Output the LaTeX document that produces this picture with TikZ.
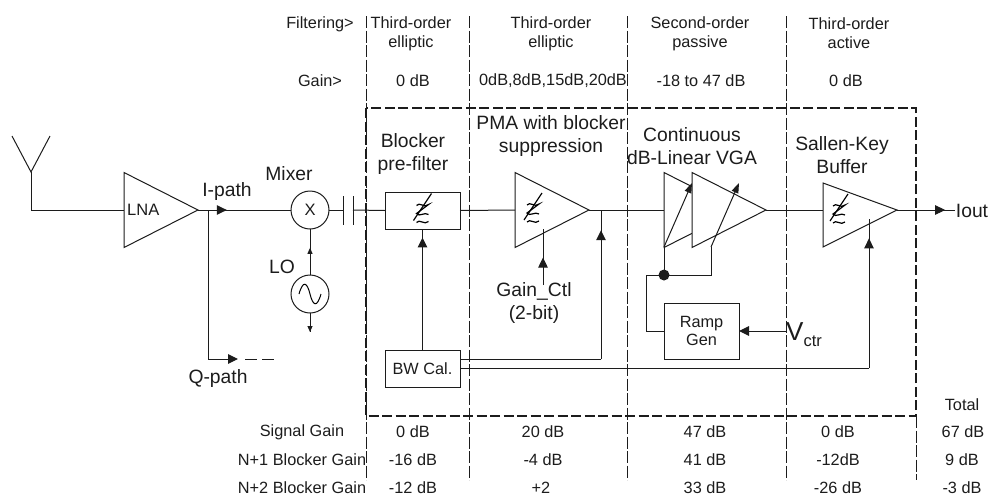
\documentclass[tikz,border=0pt]{standalone}
\usepackage{fontspec}
\setmainfont{Liberation Sans}
\usetikzlibrary{positioning,arrows.meta,shapes.geometric,decorations.markings}
\definecolor{rxInk}{HTML}{1C1C1C}
\newcommand{\fsz}[1]{\fontsize{#1}{#1}\selectfont}

\tikzset{
  % small z-with-tildes mark used inside the filter blocks
  filtmark/.pic={
    \draw[line width=1.2pt] (9,-17) -- (-9,10);
    \draw[line width=1.2pt] (-6,-5) .. controls (-3,-9) and (2,-2) .. (6,-6) -- (-6,3) .. controls (-3,7) and (2,1) .. (6,4);
    \draw[line width=1.2pt] (-6,12) .. controls (-3,8) and (2,15) .. (6,11);
  }
}

\begin{document}
\begin{tikzpicture}[
  x=1pt, y=-1pt,
  every node/.style={text=rxInk},
  wire/.style={draw=rxInk, line width=1pt},
  blk/.style={draw=rxInk, line width=1pt, fill=white, inner sep=0pt, outer sep=0pt, align=center, font=\fsz{16.3}},
  amp/.style={isosceles triangle, isosceles triangle stretches, draw=rxInk, line width=1pt, fill=white,
              inner sep=0pt, outer sep=0pt, minimum width=75pt, minimum height=74pt, anchor=lower side},
  sum/.style={circle, draw=rxInk, line width=1pt, fill=white, inner sep=0pt, outer sep=0pt, minimum size=38pt, font=\fsz{16.5}},
  lbl/.style={font=\fsz{19.3}, align=center, inner sep=0pt},
  tbl/.style={font=\fsz{16.3}, align=center, inner sep=0pt},
  flecha/.style={wire, -{Triangle[length=10pt,width=9.5pt]}},
  midtip/.style={wire, postaction={decorate}, decoration={markings, mark=at position #1 with {\arrow{Triangle[length=10pt,width=9.5pt]}}}},
  smalltip/.style={wire, postaction={decorate}, decoration={markings, mark=at position #1 with {\arrow{Triangle[length=6pt,width=5pt]}}}},
  frame/.style={draw=rxInk, line width=1.6pt, dash pattern=on 10pt off 3.5pt},
  divider/.style={draw=rxInk, line width=0.9pt, dash pattern=on 12pt off 2.5pt}
]
\useasboundingbox (0,0) rectangle (989,496);

% column dividers and the chip frame
\coordinate (d1t) at (366,16); \coordinate (d1b) at (366,480);
\coordinate (d2t) at (469,16); \coordinate (d2b) at (469,480);
\coordinate (d3t) at (627,16); \coordinate (d3b) at (627,480);
\coordinate (d4t) at (786,16); \coordinate (d4b) at (786,480);
\coordinate (d5t) at (916,416); \coordinate (d5b) at (916,480);
\draw[divider] (d1t) -- (d1b);
\draw[divider] (d2t) -- (d2b);
\draw[divider] (d3t) -- (d3b);
\draw[divider] (d4t) -- (d4b);
\draw[divider] (d5t) -- (d5b);
\draw[frame] (366,108) rectangle (916,416);

% blocks of the receive chain
\node[amp] (lna) at (124,210) {};
\node[sum] (mix) at (310,210) {X};
\node[sum, below=46pt of mix] (osc) {};
\node[blk, minimum width=75pt, minimum height=37pt] (prefilt) at (422.5,210.5) {};
\node[blk, minimum width=75pt, minimum height=37pt, below=121pt of prefilt] (bwcal) {BW Cal.};
\node[amp] (pma) at (515,210) {};
\node[amp] (vga1) at (664,210) {};
\node[amp] (vga2) at (692,210) {};
\node[blk, minimum width=75pt, minimum height=56pt] (ramp) at (701.5,331) {Ramp\\[2pt]Gen};
\draw[wire, fill=white] (823,183) coordinate (sk1) -- (897,210) coordinate (skout) -- (823,247) coordinate (sk2) -- cycle;
\coordinate (skin) at (823,210);
\pic at (prefilt.center) {filtmark};
\pic at (533,210) {filtmark};
\pic at (839,211) {filtmark};

% antenna
\coordinate (antl) at (12,136);
\coordinate (antr) at (50,136);
\coordinate (ant) at (31,172);
\coordinate (antb) at (31,210);
\draw[wire] (antl) -- (ant) -- (antr);
\draw[wire] (ant) -- (antb) -- (lna.lower side);

% signal path
\coordinate (qtap) at (208,210);
\coordinate (qend) at (238,359);
\coordinate (qd1) at (245,359);
\coordinate (qd2) at (274,359);
\coordinate (lofoot) at (310,332);
\coordinate (cap1) at (343,210);
\coordinate (cap2) at (353,210);
\draw[midtip=0.31] (lna.apex) -- (mix.west);
\draw[flecha] (qtap) |- (qend);
\draw[wire, dash pattern=on 12pt off 5pt] (qd1) -- (qd2);
\draw[smalltip=0.59] (osc.north) -- (mix.south);
\draw[smalltip=1] (osc.south) -- (lofoot);
\draw[wire] (mix.east) -- (cap1);
\draw[wire] (343,196) -- (343,225);
\draw[wire] (353,196) -- (353,225);
\draw[wire] (cap2) -- (prefilt.west);
\draw[wire] (prefilt.east) -- (pma.lower side);
\draw[wire] (pma.apex) -- (vga1.lower side);
\draw[wire] (vga2.apex) -- (skin);

% control lines
\coordinate (gctl) at (543,285);
\coordinate (gtop) at (543,229);
\coordinate (bwp) at (601,359);
\coordinate (bwptop) at (601,211);
\coordinate (bwo) at (460,359);
\coordinate (bwo2) at (460,368);
\coordinate (bwsk) at (869,368);
\coordinate (bwsktop) at (869,219);
\coordinate (vtail1) at (664,247);
\coordinate (vhead1) at (692,183);
\coordinate (vtail2) at (711,247);
\coordinate (vhead2) at (739,183);
\coordinate (rampj) at (664,275);
\coordinate (rampc) at (711,275);
\coordinate (rampl) at (646,275);
\coordinate (vctr) at (786,331);
\coordinate (ioutc) at (955,210);
\draw[midtip=0.93] (bwcal.north) -- (prefilt.south);
\draw[midtip=0.49] (gctl) -- (gtop);
\draw[wire] (bwo) -- (bwp);
\draw[midtip=0.87] (bwp) -- (bwptop);
\draw[wire] (bwo2) -- (bwsk);
\draw[midtip=0.87] (bwsk) -- (bwsktop);
\draw[flecha, -{Triangle[length=10pt,width=7pt]}] (vtail1) -- (vhead1);
\draw[flecha, -{Triangle[length=10pt,width=7pt]}] (vtail2) -- (vhead2);
\draw[wire] (vtail1) -- (rampj);
\draw[wire] (vtail2) -- (rampc) -- (rampl) |- (ramp.west);
\fill[rxInk] (rampj) circle (5.5pt);
\draw[flecha] (vctr) -- (ramp.east);
\draw[midtip=0.83] (skout) -- (ioutc);

% block labels
\node[font=\fsz{16.5}, inner sep=0pt, right=3pt of lna.lower side] (lnatxt) {LNA};
\node[lbl] (ipath) at (227,192) {I-path};
\node[lbl] (qpath) at (218,379) {Q-path};
\node[lbl] (mixtxt) at (289,174) {Mixer};
\node[lbl] (lotxt) at (282,267) {LO};
\node[lbl] (blocktxt) at (413,154) {Blocker\\[3pt]pre-filter};
\node[lbl] (pmatxt) at (551,136) {PMA with blocker\\[3pt]suppression};
\node[lbl] (vgatxt) at (692,146) {Continuous\\[3pt]dB-Linear VGA};
\node[lbl] (sktxt) at (842,155) {Sallen-Key\\[3pt]Buffer};
\node[lbl] (gaintxt) at (534,303) {Gain\_Ctl\\[3pt](2-bit)};
\node[lbl] (iouttxt) at (972,211) {Iout};
\node[inner sep=0pt, anchor=west] (vctrtxt) at (786,335) {{\fsz{26}V}\raisebox{-6pt}{\fsz{16.5}ctr}};

% table above the frame
\node[tbl] (hfilt) at (320,24) {Filtering>};
\node[tbl] (hgain) at (320,81) {Gain>};
\node[tbl] (f1) at (411,33.5) {Third-order\\[3pt]elliptic};
\node[tbl] (f2) at (551,33.5) {Third-order\\[3pt]elliptic};
\node[tbl] (f3) at (700,33.5) {Second-order\\[3pt]passive};
\node[tbl] (f4) at (849,33.5) {Third-order\\[3pt]active};
\node[tbl] (g1) at (413,81) {0 dB};
\node[tbl] (g2) at (553,81) {0dB,8dB,15dB,20dB};
\node[tbl] (g3) at (701,81) {-18 to 47 dB};
\node[tbl] (g4) at (846,81) {0 dB};

% table below the frame
\node[tbl] (total) at (962,405) {Total};
\node[tbl] (rs) at (302,432) {Signal Gain};
\node[tbl] (rn1) at (302,460) {N+1 Blocker Gain};
\node[tbl] (rn2) at (302,488) {N+2 Blocker Gain};
\node[tbl] (s1) at (413,432) {0 dB};
\node[tbl] (s2) at (543,432) {20 dB};
\node[tbl] (s3) at (705,432) {47 dB};
\node[tbl] (s4) at (838,432) {0 dB};
\node[tbl] (s5) at (963,432) {67 dB};
\node[tbl] (a1) at (413,460) {-16 dB};
\node[tbl] (a2) at (543,460) {-4 dB};
\node[tbl] (a3) at (705,460) {41 dB};
\node[tbl] (a4) at (838,460) {-12dB};
\node[tbl] (a5) at (962,460) {9 dB};
\node[tbl] (b1) at (413,488) {-12 dB};
\node[tbl] (b2) at (541,488) {+2};
\node[tbl] (b3) at (705,488) {33 dB};
\node[tbl] (b4) at (838,488) {-26 dB};
\node[tbl] (b5) at (962,488) {-3 dB};

% oscillator wave
\draw[line width=1pt] (299,294) .. controls (303,280) and (307,282) .. (310,294) .. controls (313,306) and (317,308) .. (321,294);
\end{tikzpicture}
\end{document}
